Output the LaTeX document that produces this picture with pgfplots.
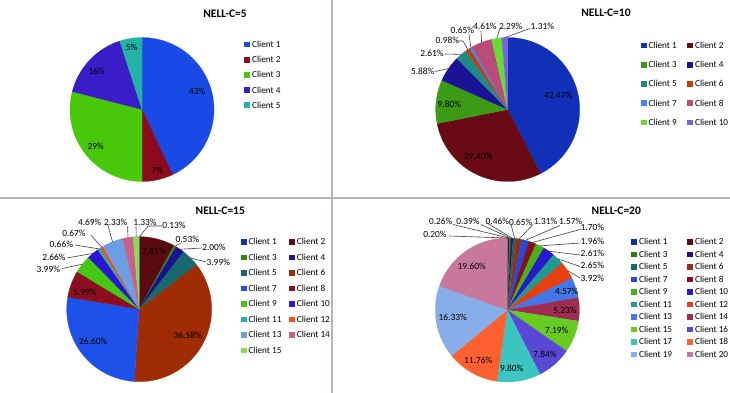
\documentclass[border=0pt]{standalone}
\usepackage{pgfplots}
\pgfplotsset{compat=1.18}
\usepackage{pgfplotstable}
\usepackage{fontspec}
\setmainfont{Carlito}

% ---------- colours ----------
\definecolor{pA1}{HTML}{1A4AE6}\definecolor{pA2}{HTML}{8A0C1C}\definecolor{pA3}{HTML}{48C808}
\definecolor{pA4}{HTML}{3A1CC8}\definecolor{pA5}{HTML}{22B2A6}

\definecolor{pB1}{HTML}{1030B8}\definecolor{pB2}{HTML}{6A0A14}\definecolor{pB3}{HTML}{3C9A14}
\definecolor{pB4}{HTML}{1C1296}\definecolor{pB5}{HTML}{1E8C84}\definecolor{pB6}{HTML}{CC3A0C}
\definecolor{pB7}{HTML}{4488EE}\definecolor{pB8}{HTML}{B84C78}\definecolor{pB9}{HTML}{66DD33}
\definecolor{pB10}{HTML}{7A60E0}

\definecolor{pC1}{HTML}{1030A8}\definecolor{pC2}{HTML}{5C0A12}\definecolor{pC3}{HTML}{2E8A10}
\definecolor{pC4}{HTML}{1A1290}\definecolor{pC5}{HTML}{166A6E}\definecolor{pC6}{HTML}{A02C04}
\definecolor{pC7}{HTML}{1E50EA}\definecolor{pC8}{HTML}{8E0E20}\definecolor{pC9}{HTML}{44C814}
\definecolor{pC10}{HTML}{2C14D4}\definecolor{pC11}{HTML}{1EB4A4}\definecolor{pC12}{HTML}{FF4C14}
\definecolor{pC13}{HTML}{6C9EE6}\definecolor{pC14}{HTML}{C86088}\definecolor{pC15}{HTML}{88DD55}

\definecolor{pD1}{HTML}{10309E}\definecolor{pD2}{HTML}{5C0A14}\definecolor{pD3}{HTML}{2E7E10}
\definecolor{pD4}{HTML}{1C1480}\definecolor{pD5}{HTML}{18686A}\definecolor{pD6}{HTML}{9A3010}
\definecolor{pD7}{HTML}{1E4CE0}\definecolor{pD8}{HTML}{88101E}\definecolor{pD9}{HTML}{48B414}
\definecolor{pD10}{HTML}{2A18CC}\definecolor{pD11}{HTML}{1E9A90}\definecolor{pD12}{HTML}{E6400E}
\definecolor{pD13}{HTML}{4476E6}\definecolor{pD14}{HTML}{A02C54}\definecolor{pD15}{HTML}{66CC22}
\definecolor{pD16}{HTML}{5A48D4}\definecolor{pD17}{HTML}{3CC4C0}\definecolor{pD18}{HTML}{FF6030}
\definecolor{pD19}{HTML}{88AEEA}\definecolor{pD20}{HTML}{C8789C}

\definecolor{divider}{HTML}{B0B8B8}
\definecolor{leadcol}{HTML}{404040}

% ---------- data (shares in percent) ----------
\pgfplotstableread{
client share
1 43
2 7
3 29
4 16
5 5
}\dataA
\pgfplotstableread{
client share
1 42.47
2 29.40
3 9.80
4 5.88
5 2.61
6 0.98
7 0.65
8 4.61
9 2.29
10 1.31
}\dataB
\pgfplotstableread{
client share
1 0.13
2 7.85
3 0.53
4 2.00
5 3.99
6 36.58
7 26.60
8 5.99
9 3.99
10 2.66
11 0.66
12 0.67
13 4.69
14 2.33
15 1.33
}\dataC
\pgfplotstableread{
client share
1 0.20
2 0.26
3 0.39
4 0.46
5 0.65
6 1.31
7 1.57
8 1.70
9 1.96
10 2.61
11 2.65
12 3.92
13 4.57
14 5.23
15 7.19
16 7.84
17 9.80
18 11.76
19 16.33
20 19.60
}\dataD

% ---------- label positions ----------
\pgfplotstableread{
x y lab
197.3 91 43
157.3 170 7
95.7 146.7 29
96.7 71 16
131.7 47.3 5
}\labA
\pgfplotstableread{
x y lab
558.3 95 42.47
478.3 156 29.40
449.3 104.3 9.80
422.7 71.3 5.88
432 53.8 2.61
447.3 40.7 0.98
462.3 30 0.65
485 26 4.61
510.7 26 2.29
542.3 26 1.31
}\labB
\pgfplotstableread{
x y lab
154 251.7 7.85
187.7 335 36.58
93.3 341 26.60
85 292.7 5.99
174 225 0.13
145 222.3 1.33
115.7 222.3 2.33
89.7 222.3 4.69
74 233.3 0.67
61.3 244 0.66
54 257.3 2.66
48.3 269 3.99
187.3 239 0.53
214 247.3 2.00
218.3 262.3 3.99
}\labC
\pgfplotstableread{
x y lab
566.7 291.7 4.57
565 310 5.23
556.7 330 7.19
545 354.3 7.84
511.7 368.3 9.80
478.3 360 11.76
452.7 317.7 16.33
471.7 266.7 19.60
435 234.3 0.20
440.7 221 0.26
468 221 0.39
497.3 221 0.46
520.7 222 0.65
545.7 221.7 1.31
570.7 221.7 1.57
592.3 227.3 1.70
592.3 241.7 1.96
592.3 253.3 2.61
592.3 265.7 2.65
592.3 278.3 3.92
}\labD

\newcommand\lblfont{\fontsize{9.4}{10}\selectfont}
\newcommand\legfont{\fontsize{9.2}{10}\selectfont}
\newcommand\ttlfont{\fontsize{11.5}{13}\selectfont\bfseries}

\pgfplotsset{
  quad/.style={hide axis, scale only axis, clip=false, y dir=reverse},
  leader/.style={forget plot, draw=leadcol, line width=0.6pt, mark=none},
  pielabels/.style={forget plot, only marks, mark=*, mark size=0pt,
    mark options={draw=none, fill=none},
    point meta=explicit symbolic,
    nodes near coords={\pgfplotspointmeta\%},
    every node near coord/.style={anchor=center, font=\lblfont, text=black, inner sep=0pt}},
}

% #1 table, #2 colour prefix, #3 cx, #4 cy, #5 r
\newcommand\drawpie[5]{%
  \pgfplotstablegetrowsof{#1}%
  \pgfmathtruncatemacro\nrows{\pgfplotsretval-1}%
  \def\cum{0}%
  \pgfplotsforeachungrouped \i in {0,...,\nrows}{%
    \pgfplotstablegetelem{\i}{share}\of#1%
    \let\val\pgfplotsretval
    \pgfmathsetmacro\angA{3.6*\cum}%
    \pgfmathsetmacro\angB{3.6*(\cum+\val)}%
    \pgfmathsetmacro\cum{\cum+\val}%
    \pgfmathtruncatemacro\k{\i+1}%
    \edef\temp{\noexpand\addplot[fill=#2\k, draw=#2\k, line width=0.2pt, domain=\angA:\angB, samples=60]
      ({#3+#5*sin(x)},{#4-#5*cos(x)}) -- (axis cs:#3,#4) -- cycle;}%
    \temp
  }%
}
% #1 n, #2 prefix, #3 ncols, #4 xcol1, #5 xcol2, #6 y0, #7 dy
\newcommand\drawlegend[7]{%
  \pgfplotsforeachungrouped \k in {1,...,#1}{%
    \pgfmathtruncatemacro\col{mod(\k-1,#3)}%
    \pgfmathtruncatemacro\row{(\k-1)/#3}%
    \pgfmathsetmacro\lx{\col==0 ? #4 : #5}%
    \pgfmathsetmacro\ly{#6+\row*#7}%
    \edef\temp{\noexpand\addplot[forget plot, only marks, mark=square*, mark size=2.4pt, color=#2\k,
      nodes near coords={Client \k},
      every node near coord/.style={anchor=west, text=black, font=\noexpand\legfont, inner sep=0pt, xshift=5pt}]
      coordinates {(\lx,\ly)};}%
    \temp
  }%
}

\begin{document}
\begin{tikzpicture}
\useasboundingbox (0,0) rectangle (730pt,393pt);
\fill[white] (0,0) rectangle (730pt,393pt);

% ===== NELL-C=5 =====
\begin{axis}[quad, at={(0pt,195pt)}, anchor=south west, width=332pt, height=198pt,
  xmin=0, xmax=332, ymin=0, ymax=198]
  \drawpie{\dataA}{pA}{142}{109.5}{72}
  \addplot[pielabels] table[x=x, y=y, meta=lab] {\labA};
  \drawlegend{5}{pA}{1}{247}{247}{44.3}{15.2}
  \node[font=\ttlfont] at (axis cs:225,13.3) {NELL-C=5};
\end{axis}

% ===== NELL-C=10 =====
\begin{axis}[quad, at={(332pt,195pt)}, anchor=south west, width=398pt, height=198pt,
  xmin=332, xmax=730, ymin=0, ymax=198]
  \drawpie{\dataB}{pB}{507.7}{109.5}{72}
  \addplot[leader] coordinates {(435,71.5) (448.4,68.6)};
  \addplot[leader] coordinates {(445,54) (461.3,54.4)};
  \addplot[leader] coordinates {(459,41) (463,41) (467.8,49.6)};
  \addplot[leader] coordinates {(469,34.5) (470.9,47.6)};
  \addplot[leader] coordinates {(481,31) (481.6,42.4)};
  \addplot[leader] coordinates {(500,28.5) (496.6,38.4)};
  \addplot[leader] coordinates {(530,28.5) (504.7,37.6)};
  \addplot[pielabels] table[x=x, y=y, meta=lab] {\labB};
  \drawlegend{10}{pB}{2}{643.3}{690}{45.3}{19.25}
  \node[font=\ttlfont] at (axis cs:606,12.5) {NELL-C=10};
\end{axis}

% ===== NELL-C=15 =====
\begin{axis}[quad, at={(0pt,0pt)}, anchor=south west, width=332pt, height=195pt,
  xmin=0, xmax=332, ymin=198, ymax=393]
  \drawpie{\dataC}{pC}{139.2}{309.2}{72.5}
  \addplot[leader] coordinates {(162,226) (148,226) (139.5,236.7)};
  \addplot[leader] coordinates {(136,226) (136.2,236.8)};
  \addplot[leader] coordinates {(127.7,226) (127.9,237.6)};
  \addplot[leader] coordinates {(107.7,224.5) (112.5,241.8)};
  \addplot[leader] coordinates {(91,235) (101.6,247.2)};
  \addplot[leader] coordinates {(75,245) (99,248.9)};
  \addplot[leader] coordinates {(66.7,258) (93,253.4)};
  \addplot[leader] coordinates {(62,268.5) (82.4,264.2)};
  \addplot[leader] coordinates {(181,243) (175.1,246.2)};
  \addplot[leader] coordinates {(202,248) (180,249.3)};
  \addplot[leader] coordinates {(206,262) (190.5,257.9)};
  \addplot[pielabels] table[x=x, y=y, meta=lab] {\labC};
  \drawlegend{15}{pC}{2}{243.3}{291.7}{241.7}{15.5}
  \node[font=\ttlfont] at (axis cs:220.3,211) {NELL-C=15};
\end{axis}

% ===== NELL-C=20 =====
\begin{axis}[quad, at={(332pt,0pt)}, anchor=south west, width=398pt, height=195pt,
  xmin=332, xmax=730, ymin=198, ymax=393]
  \drawpie{\dataD}{pD}{507.3}{310}{72}
  \addplot[leader] coordinates {(449,236) (507.8,238)};
  \addplot[leader] coordinates {(453,224.5) (508.8,238)};
  \addplot[leader] coordinates {(481,224.5) (510.3,238.1)};
  \addplot[leader] coordinates {(486,222.5) (512.2,238.2)};
  \addplot[leader] coordinates {(511,224.5) (514.7,238.4)};
  \addplot[leader] coordinates {(533,224.5) (519.1,239)};
  \addplot[leader] coordinates {(560,225.5) (525.4,240.3)};
  \addplot[leader] coordinates {(580.7,229.3) (532.5,242.5)};
  \addplot[leader] coordinates {(580,243) (540.1,245.9)};
  \addplot[leader] coordinates {(580,255) (548.9,251.2)};
  \addplot[leader] coordinates {(580,266.5) (558,258.9)};
  \addplot[leader] coordinates {(580,278) (567.4,270.4)};
  \addplot[pielabels] table[x=x, y=y, meta=lab] {\labD};
  \drawlegend{20}{pD}{2}{634}{690}{241.7}{12.5}
  \node[font=\ttlfont] at (axis cs:616.3,211) {NELL-C=20};
\end{axis}

% dividers
\draw[divider, line width=1.5pt] (332pt,0pt) -- (332pt,393pt);
\draw[divider, line width=1.5pt] (0pt,195pt) -- (730pt,195pt);
\end{tikzpicture}
\end{document}
